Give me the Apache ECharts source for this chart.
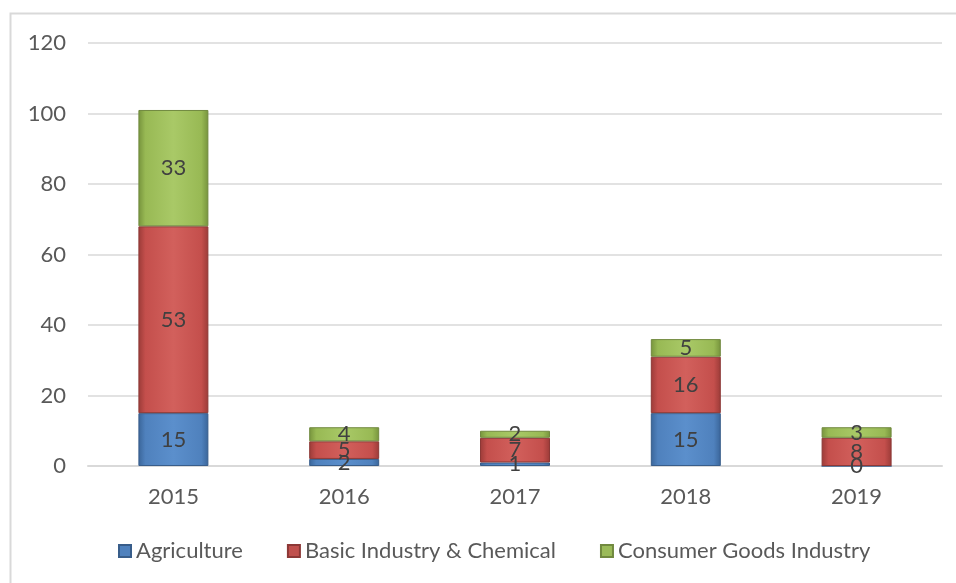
<!DOCTYPE html>
<html><head><meta charset="utf-8">
<script src="https://cdn.jsdelivr.net/npm/echarts@6/dist/echarts.min.js"></script>
<style>html,body{margin:0;padding:0;background:#fff}#c{width:956px;height:583px}</style>
</head><body><div id="c"></div>
<script>
const categories = ['2015','2016','2017','2018','2019'];
const agriculture = [15, 2, 1, 15, 0];
const basicIndustry = [53, 5, 7, 16, 8];
const consumerGoods = [33, 4, 2, 5, 3];
const yTicks = [0, 20, 40, 60, 80, 100, 120];

const FONT = 'Lato, "Open Sans", "Noto Sans", sans-serif';
function grad(light, mid, dark) {
  return new echarts.graphic.LinearGradient(0, 0, 1, 0, [
    {offset: 0, color: dark}, {offset: 0.1, color: mid},
    {offset: 0.5, color: light}, {offset: 0.9, color: mid}, {offset: 1, color: dark}
  ]);
}
const styles = [
  {name: 'Agriculture', data: agriculture, color: '#4F81BD', g: grad('#5B8FCC', '#4F81BD', '#3A6599'), border: '#385D8A'},
  {name: 'Basic Industry & Chemical', data: basicIndustry, color: '#C0504D', g: grad('#D2605C', '#C44F4C', '#9B3B38'), border: '#8C3836'},
  {name: 'Consumer Goods Industry', data: consumerGoods, color: '#9BBB59', g: grad('#A9C967', '#98B954', '#76933C'), border: '#71893F'}
];
const chart = echarts.init(document.getElementById('c'), null, {renderer: 'canvas'});
chart.setOption({
  animation: false,
  backgroundColor: '#fff',
  graphic: [{type: 'rect', shape: {x: 10.5, y: 13.5, width: 960, height: 600}, style: {fill: 'none', stroke: '#d9d9d9', lineWidth: 2}, silent: true}],
  grid: {left: 88, right: 14, top: 43, bottom: 117, containLabel: false},
  legend: {
    top: 535, left: 113, itemWidth: 12, itemHeight: 12, itemGap: 44,
    icon: 'rect',
    textStyle: {fontFamily: FONT, fontSize: 22, color: '#595959', padding: [0, 0, 0, 0]},
    data: styles.map(s => ({name: s.name, itemStyle: {color: s.color}}))
  },
  xAxis: {
    type: 'category', data: categories,
    axisLine: {lineStyle: {color: '#d9d9d9', width: 2}},
    axisTick: {show: false},
    axisLabel: {fontFamily: FONT, fontSize: 22, color: '#595959', margin: 20}
  },
  yAxis: {
    type: 'value', min: 0, max: 120, interval: 20,
    axisLine: {show: false}, axisTick: {show: false},
    axisLabel: {fontFamily: FONT, fontSize: 22, color: '#595959', margin: 22,
      formatter: v => yTicks.includes(v) ? String(v) : ''},
    splitLine: {lineStyle: {color: '#d9d9d9', width: 1.5}}
  },
  series: styles.map(s => ({
    name: s.name, type: 'bar', stack: 'total', barWidth: 70,
    data: s.data,
    itemStyle: {color: s.g, borderColor: s.border, borderWidth: 1},
    label: {show: true, position: 'inside', fontFamily: FONT, fontSize: 22, color: '#404040'}
  }))
});
</script></body></html>
